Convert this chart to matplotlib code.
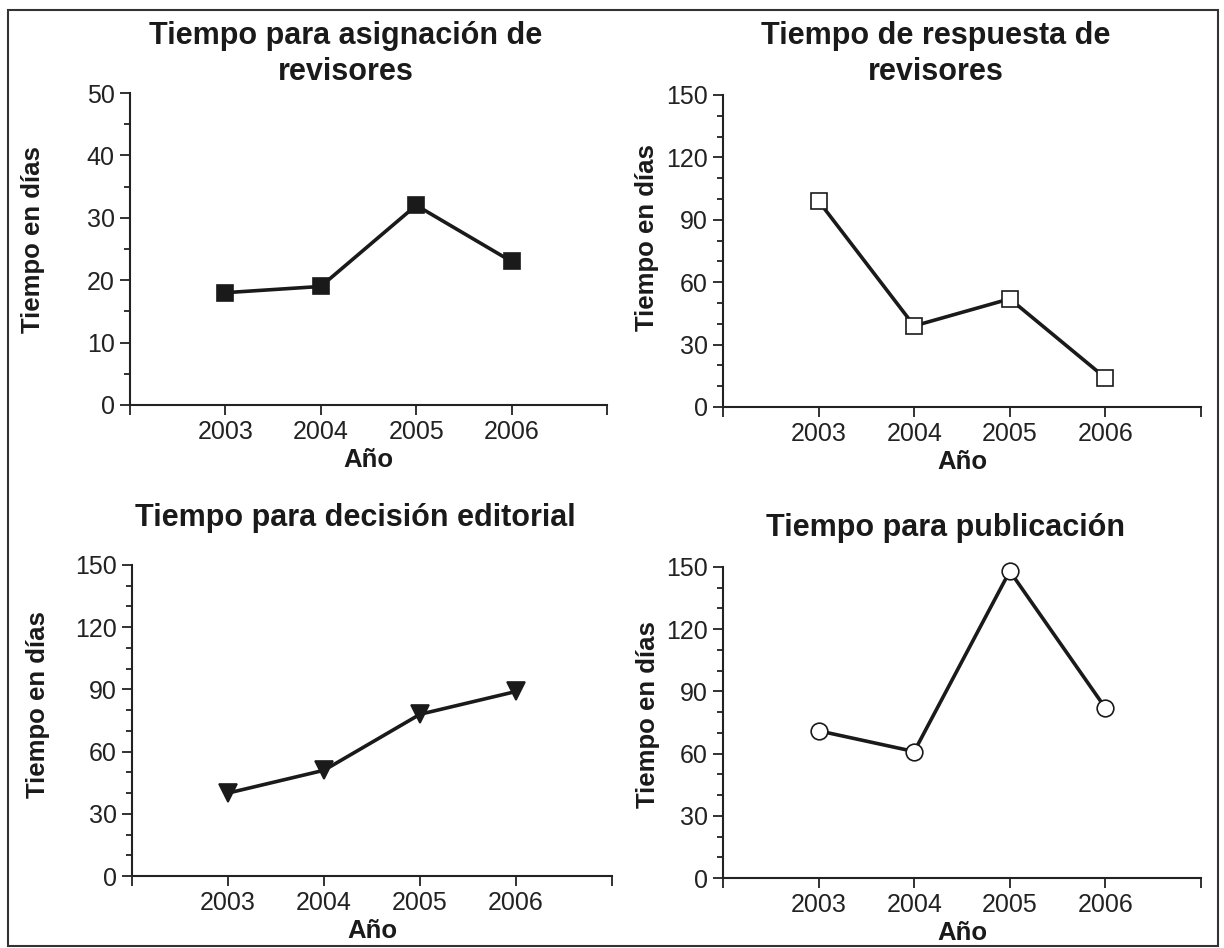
import matplotlib
matplotlib.use('Agg')
import matplotlib.pyplot as plt
from matplotlib.patches import Rectangle
from matplotlib.ticker import MultipleLocator

plt.rcParams['font.family'] = ['Liberation Sans', 'DejaVu Sans']

# Daten
anios = [2003, 2004, 2005, 2006]
asignacion = [18, 19, 32, 23]
respuesta = [99, 39, 52, 14]
decision = [40, 51, 78, 89]
publicacion = [71, 61, 148, 82]

W, H = 1224, 948
fig = plt.figure(figsize=(W / 100, H / 100), dpi=100)


def box(x0, x1, y_top, y_bot):
    # pixel -> figure fraction
    return [x0 / W, 1 - y_bot / H, (x1 - x0) / W, (y_bot - y_top) / H]


paneles = [
    # pos, werte, ymax, major, minor, marker, face, titel, titel-pos, ylabel-pos
    (box(130, 607, 93, 405), asignacion, 50, 10, 5, 's', '#1a1a1a',
     'Tiempo para asignación de\nrevisores', (346, 54), (33, 240)),
    (box(723, 1201, 95, 407), respuesta, 150, 30, 10, 's', 'white',
     'Tiempo de respuesta de\nrevisores', (936, 54), (647, 238)),
    (box(132, 612, 565, 876), decision, 150, 30, 10, 'v', '#1a1a1a',
     'Tiempo para decisión editorial', (355, 518), (38, 705)),
    (box(723, 1201, 567, 878), publicacion, 150, 30, 10, 'o', 'white',
     'Tiempo para publicación', (945, 528), (648, 715)),
]

for pos, werte, ymax, major, minor, mk, face, titel, tpos, ypos in paneles:
    ax = fig.add_axes(pos)
    ax.plot(anios, werte, color='#1a1a1a', lw=2.6, marker=mk,
            markersize=12 if mk != 'v' else 13, markerfacecolor=face,
            markeredgecolor='#1a1a1a', markeredgewidth=1.2, zorder=3,
            clip_on=False)
    ax.set_xlim(2002, 2007)
    ax.set_ylim(0, ymax)
    ax.set_xticks([2002, 2003, 2004, 2005, 2006, 2007])
    ax.set_xticklabels(['', '2003', '2004', '2005', '2006', ''])
    ax.yaxis.set_major_locator(MultipleLocator(major))
    ax.yaxis.set_minor_locator(MultipleLocator(minor))
    for s in ['top', 'right']:
        ax.spines[s].set_visible(False)
    for s in ['left', 'bottom']:
        ax.spines[s].set_linewidth(1.5)
        ax.spines[s].set_color('#222222')
    ax.tick_params(axis='both', which='major', direction='out', length=7,
                   width=1.3, labelsize=18, colors='#222222', pad=4)
    ax.tick_params(axis='y', which='minor', direction='out', length=4,
                   width=1.3, colors='#222222')
    ax.set_xlabel('Año', fontsize=18.5, fontweight='bold', labelpad=3,
                  color='#1a1a1a')
    fig.text(tpos[0] / W, 1 - tpos[1] / H, titel, ha='center', va='center',
             fontsize=22, fontweight='bold', color='#1a1a1a', linespacing=1.25)
    fig.text(ypos[0] / W, 1 - ypos[1] / H, 'Tiempo en días', rotation=90,
             ha='center', va='center', fontsize=18.5, fontweight='bold',
             color='#1a1a1a')

# Rahmen
fig.patches.append(Rectangle((8 / W, 2 / H), 1210 / W, 936 / H,
                             transform=fig.transFigure, fill=False,
                             edgecolor='#333333', lw=1.5))

fig.savefig('out.png', dpi=100)
